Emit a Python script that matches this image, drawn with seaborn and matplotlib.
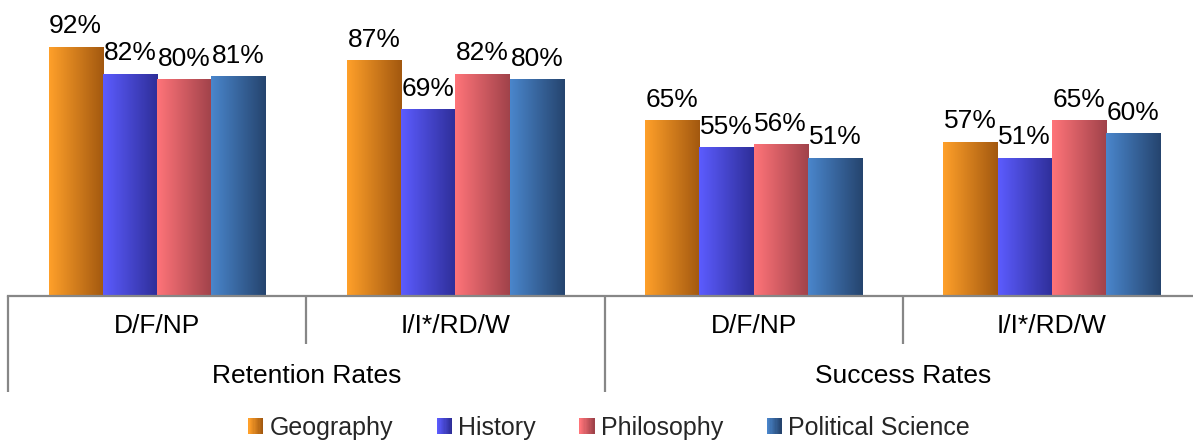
import numpy as np
import pandas as pd
import matplotlib
matplotlib.use("Agg")
import matplotlib.pyplot as plt
from matplotlib.colors import to_rgb
from matplotlib.patches import Rectangle
from matplotlib.legend_handler import HandlerBase
from matplotlib.transforms import blended_transform_factory
import seaborn as sns

# ---- data ----
subjects = ["Geography", "History", "Philosophy", "Political Science"]
outer_labels = ["Retention Rates", "Success Rates"]
inner_labels = ["D/F/NP", "I/I*/RD/W"]
geography = [92, 87, 65, 57]
history = [82, 69, 55, 51]
philosophy = [80, 82, 56, 65]
political_science = [81, 80, 51, 60]

# light (left) -> dark (right) gradient stops per subject
grad_colors = {
    "Geography": ("#FFA02A", "#A2580F"),
    "History": ("#5C5CFF", "#2E2E98"),
    "Philosophy": ("#FF7479", "#A0424A"),
    "Political Science": ("#4A86CC", "#25446E"),
}

groups = [f"{o}|{i}" for o in outer_labels for i in inner_labels]
series = [geography, history, philosophy, political_science]
rows = []
for subj, vals in zip(subjects, series):
    for g, v in zip(groups, vals):
        rows.append({"group": g, "subject": subj, "value": v})
df = pd.DataFrame(rows)

sns.set_theme(style="white")
plt.rcParams["font.family"] = ["Liberation Sans", "DejaVu Sans"]

fig = plt.figure(figsize=(11.93, 4.43), dpi=100)
ax = fig.add_axes([8 / 1193, 147 / 443, 1193 / 1193, 271 / 443])

palette = {s: grad_colors[s][0] for s in subjects}
sns.barplot(data=df, x="group", y="value", hue="subject", order=groups,
            hue_order=subjects, palette=palette, width=0.728, saturation=1,
            legend=False, ax=ax)


def gradient_image(c0, c1, n=256):
    a = np.array(to_rgb(c0))
    b = np.array(to_rgb(c1))
    t = np.linspace(0, 1, n)[:, None]
    return (a + (b - a) * t)[None, :, :]


# horizontal gradient fill for every bar + value label
for subj, cont in zip(subjects, ax.containers):
    img = gradient_image(*grad_colors[subj])
    for patch in cont.patches:
        x, w, h = patch.get_x(), patch.get_width(), patch.get_height()
        patch.set_facecolor("none")
        patch.set_edgecolor("none")
        im = ax.imshow(img, extent=[x, x + w, 0, h], aspect="auto",
                       interpolation="bilinear", zorder=2)
        im.set_clip_path(patch)
        ax.annotate(f"{h:.0f}%", (x + w / 2, h), xytext=(0, 6),
                    textcoords="offset points", ha="center", va="bottom",
                    fontsize=19, color="black")

ax.set_xlim(-0.5, 3.5)
ax.set_ylim(0, 100)
ax.set_xlabel("")
ax.set_ylabel("")
ax.set_xticks([])
ax.set_yticks([])
for s in ["left", "top", "right"]:
    ax.spines[s].set_visible(False)
ax.spines["bottom"].set_color("#878787")
ax.spines["bottom"].set_linewidth(1.6)

# two-level category axis
trans = blended_transform_factory(ax.transData, ax.transAxes)
axis_grey = "#878787"
for i, g in enumerate(groups):
    inner = g.split("|")[1]
    ax.text(i, -0.112, inner, transform=trans, ha="center", va="center",
            fontsize=19, color="black")
for j, o in enumerate(outer_labels):
    ax.text(2 * j + 0.5, -0.296, o, transform=trans, ha="center",
            va="center", fontsize=19, color="black")
for xb in np.arange(-0.5, 4.0, 1.0):
    k = int(xb + 0.5)
    bottom = -0.354 if k % 2 == 0 else -0.177
    ax.plot([xb, xb], [0, bottom], transform=trans, color=axis_grey,
            lw=1.6, clip_on=False, solid_capstyle="butt")


class GradientHandler(HandlerBase):
    def __init__(self, c0, c1, **kw):
        super().__init__(**kw)
        self.c0, self.c1 = c0, c1

    def create_artists(self, legend, orig_handle, xdescent, ydescent,
                       width, height, fontsize, trans):
        n = 12
        a = np.array(to_rgb(self.c0))
        b = np.array(to_rgb(self.c1))
        w = width / n
        arts = []
        for k in range(n):
            c = a + (b - a) * (k / (n - 1))
            r = Rectangle((-xdescent + k * w, -ydescent), w * 1.05, height,
                          facecolor=c, edgecolor="none", transform=trans)
            arts.append(r)
        return arts


handles = [Rectangle((0, 0), 1, 1) for _ in subjects]
handler_map = {h: GradientHandler(*grad_colors[s]) for h, s in zip(handles, subjects)}
fig.legend(handles, subjects, handler_map=handler_map, loc="center",
           bbox_to_anchor=(609 / 1193, 1 - 428 / 443), ncol=4, frameon=False,
           fontsize=18, handlelength=0.6, handleheight=0.6, handletextpad=0.25,
           columnspacing=1.75, borderpad=0.0)

fig.savefig("out.png", dpi=100)
